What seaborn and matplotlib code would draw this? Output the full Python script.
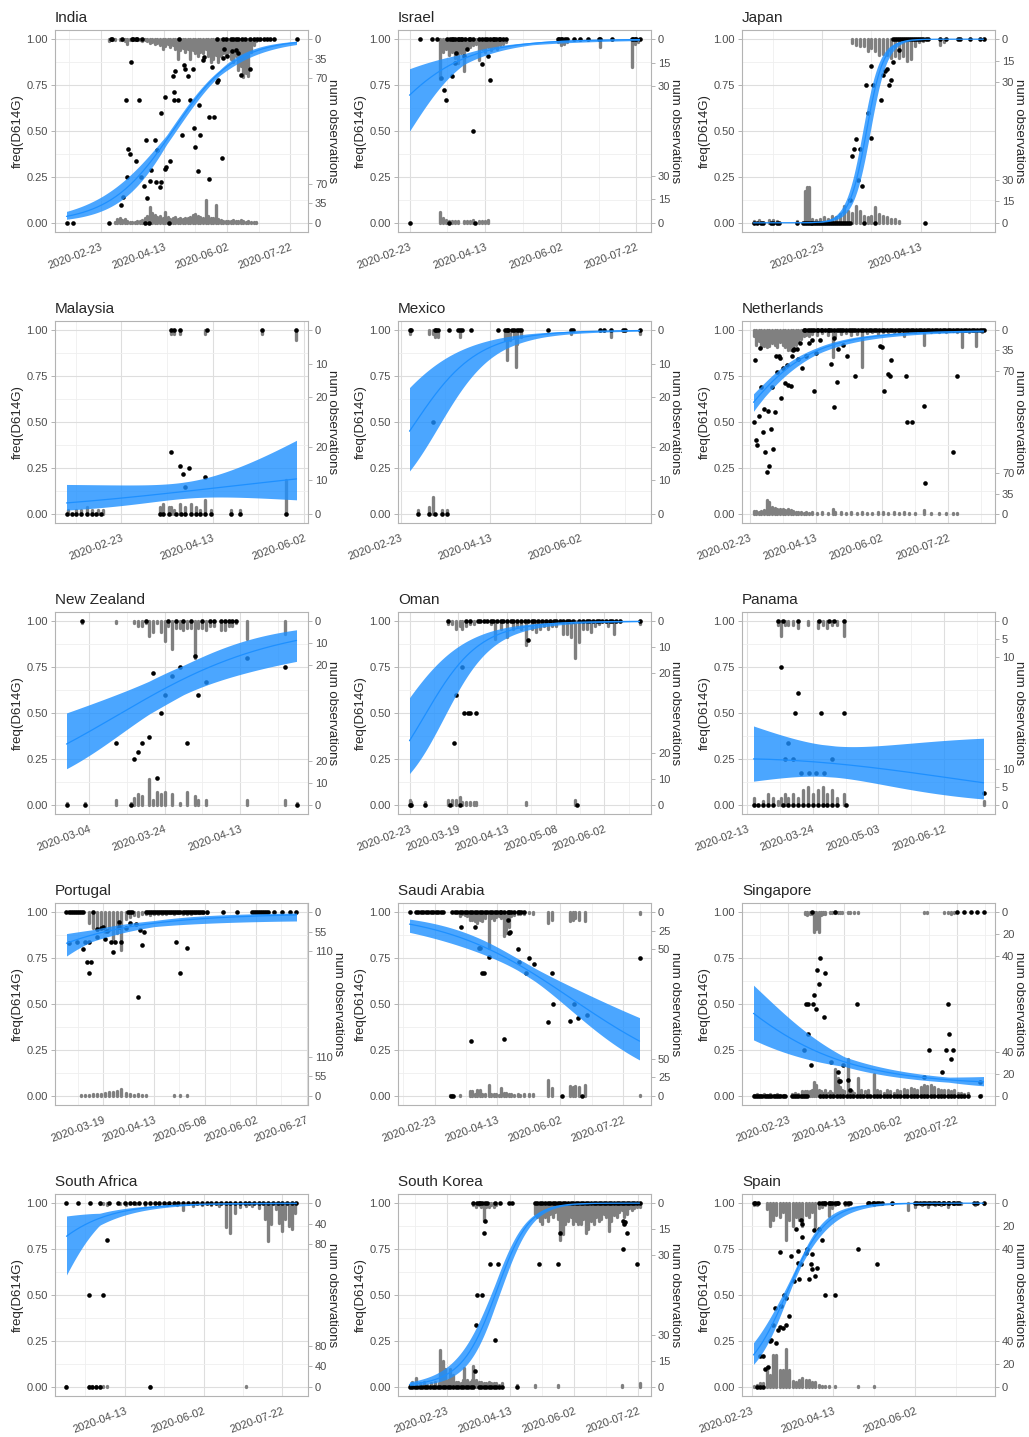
import numpy as np
import pandas as pd
import matplotlib
matplotlib.use("Agg")
import matplotlib.pyplot as plt
import seaborn as sns

# days are counted from 2020-01-01
countries = ["India", "Israel", "Japan", "Malaysia", "Mexico", "Netherlands",
             "New Zealand", "Oman", "Panama", "Portugal", "Saudi Arabia", "Singapore",
             "South Africa", "South Korea", "Spain"]

tick_dates = {
    "India": ["2020-02-23", "2020-04-13", "2020-06-02", "2020-07-22"],
    "Israel": ["2020-02-23", "2020-04-13", "2020-06-02", "2020-07-22"],
    "Japan": ["2020-02-23", "2020-04-13"],
    "Malaysia": ["2020-02-23", "2020-04-13", "2020-06-02"],
    "Mexico": ["2020-02-23", "2020-04-13", "2020-06-02"],
    "Netherlands": ["2020-02-23", "2020-04-13", "2020-06-02", "2020-07-22"],
    "New Zealand": ["2020-03-04", "2020-03-24", "2020-04-13"],
    "Oman": ["2020-02-23", "2020-03-19", "2020-04-13", "2020-05-08", "2020-06-02"],
    "Panama": ["2020-02-13", "2020-03-24", "2020-05-03", "2020-06-12"],
    "Portugal": ["2020-03-19", "2020-04-13", "2020-05-08", "2020-06-02", "2020-06-27"],
    "Saudi Arabia": ["2020-02-23", "2020-04-13", "2020-06-02", "2020-07-22"],
    "Singapore": ["2020-02-23", "2020-04-13", "2020-06-02", "2020-07-22"],
    "South Africa": ["2020-04-13", "2020-06-02", "2020-07-22"],
    "South Korea": ["2020-02-23", "2020-04-13", "2020-06-02", "2020-07-22"],
    "Spain": ["2020-02-23", "2020-04-13", "2020-06-02"],
}

# secondary axis: tick values and how much of the freq axis the largest tick spans
sec_ticks = {
    "India": [0, 35, 70], "Israel": [0, 15, 30], "Japan": [0, 15, 30],
    "Malaysia": [0, 10, 20], "Mexico": [0, 10, 20], "Netherlands": [0, 35, 70],
    "New Zealand": [0, 10, 20], "Oman": [0, 10, 20], "Panama": [0, 5, 10],
    "Portugal": [0, 55, 110], "Saudi Arabia": [0, 25, 50], "Singapore": [0, 20, 40],
    "South Africa": [0, 40, 80], "South Korea": [0, 15, 30], "Spain": [0, 20, 40],
}
sec_span = {
    "India": 0.214, "Israel": 0.257, "Japan": 0.235, "Malaysia": 0.366, "Mexico": 0.364,
    "Netherlands": 0.22, "New Zealand": 0.236, "Oman": 0.284, "Panama": 0.197,
    "Portugal": 0.212, "Saudi Arabia": 0.2, "Singapore": 0.237, "South Africa": 0.224,
    "South Korea": 0.284, "Spain": 0.25,
}

# fitted curve read at three dates: centre, lower and upper edge of the band
fit_days = {
    "India": [26, 105, 208], "Israel": [53, 89, 205], "Japan": [66, 75.5, 85],
    "Malaysia": [24, 86, 149], "Mexico": [58, 112, 186], "Netherlands": [56, 103, 230],
    "New Zealand": [57, 88, 118], "Oman": [53, 103, 171], "Panama": [47, 97, 187],
    "Portugal": [60, 103, 173], "Saudi Arabia": [33, 119, 216], "Singapore": [22, 103, 227],
    "South Africa": [66, 87, 212], "South Korea": [24, 91, 127], "Spain": [55, 78, 103],
}
fit_p = {
    "India": [0.035, 0.45, 0.982], "Israel": [0.695, 0.895, 0.998], "Japan": [0.10, 0.5, 0.90],
    "Malaysia": [0.06, 0.12, 0.19], "Mexico": [0.45, 0.94, 0.998], "Netherlands": [0.607, 0.885, 0.995],
    "New Zealand": [0.331, 0.685, 0.895], "Oman": [0.349, 0.945, 0.999], "Panama": [0.25, 0.224, 0.12],
    "Portugal": [0.831, 0.94, 0.985], "Saudi Arabia": [0.935, 0.717, 0.298], "Singapore": [0.449, 0.185, 0.076],
    "South Africa": [0.82, 0.918, 0.9995], "South Korea": [0.013, 0.5, 0.949], "Spain": [0.185, 0.585, 0.922],
}
fit_lo = {
    "India": [0.018, 0.425, 0.971], "Israel": [0.52, 0.862, 0.993], "Japan": [0.066, 0.39, 0.852],
    "Malaysia": [0.021, 0.076, 0.076], "Mexico": [0.244, 0.909, 0.995], "Netherlands": [0.56, 0.866, 0.99],
    "New Zealand": [0.195, 0.60, 0.80], "Oman": [0.158, 0.913, 0.997], "Panama": [0.12, 0.142, 0.03],
    "Portugal": [0.764, 0.922, 0.958], "Saudi Arabia": [0.895, 0.685, 0.195], "Singapore": [0.298, 0.158, 0.049],
    "South Africa": [0.623, 0.88, 0.997], "South Korea": [0.006, 0.44, 0.935], "Spain": [0.131, 0.558, 0.895],
}
fit_hi = {
    "India": [0.058, 0.475, 0.989], "Israel": [0.85, 0.92, 0.9995], "Japan": [0.148, 0.61, 0.934],
    "Malaysia": [0.16, 0.158, 0.40], "Mexico": [0.70, 0.967, 0.9993], "Netherlands": [0.655, 0.902, 0.9975],
    "New Zealand": [0.498, 0.76, 0.958], "Oman": [0.562, 0.968, 0.9997], "Panama": [0.41, 0.306, 0.35],
    "Portugal": [0.885, 0.955, 0.996], "Saudi Arabia": [0.964, 0.749, 0.425], "Singapore": [0.595, 0.21, 0.095],
    "South Africa": [0.934, 0.945, 0.9999], "South Korea": [0.026, 0.56, 0.96], "Spain": [0.249, 0.613, 0.945],
}

# daily frequency points: days at 1, days at 0, and (day, freq) in between
ones_days = {
    "India": [61, 62, 70, 78, 79, 81, 82, 86, 115, 145, 150, 152, 156, 158, 160, 162, 165, 167,
              171, 174, 177, 179, 182, 185, 187, 190, 208],
    "Israel": [60, 68, 71, 78, 80, 81, 82, 83, 85, 86, 87, 88, 90, 92, 93, 95, 99, 101, 103, 104,
               106, 108, 109, 110, 112, 113, 115, 117, 151, 152, 153, 154, 156, 157, 162, 166, 171,
               178, 179, 187, 200, 201, 202, 203, 205],
    "Japan": [89, 90, 91, 92, 93, 94, 95, 96, 97, 98, 99, 100, 101, 102, 103, 104, 106, 107, 113,
              116, 122, 123, 128, 133, 135],
    "Malaysia": [80, 82, 85, 100, 130, 149],
    "Mexico": [58, 59, 72, 73, 74, 80, 85, 86, 87, 92, 107, 111, 112, 113, 115, 116, 118, 119, 120,
               135, 148, 149, 164, 166, 170, 177, 178, 186],
    "Netherlands": [94, 95, 97, 99, 100, 102, 104, 105, 107, 108, 110, 112, 113, 115, 117, 119, 121,
                    122, 124, 126, 128, 130, 131, 133, 135, 137, 139, 141, 143, 145, 147, 149, 151,
                    153, 155, 157, 159, 161, 163, 165, 167, 169, 171, 173, 175, 177, 179, 181, 183,
                    185, 187, 189, 191, 193, 195, 197, 199, 201, 203, 205, 207, 209, 211, 213, 215,
                    217, 219, 221, 223, 225, 227, 229, 230],
    "New Zealand": [61, 78, 84, 86, 88, 90, 93, 95, 96, 98, 99, 100, 101, 102],
    "Oman": [73, 82, 84, 88, 89, 91, 93, 95, 96, 98, 100, 101, 103, 105, 106, 108, 110, 112, 114,
             116, 117, 119, 121, 123, 125, 127, 128, 130, 132, 134, 135, 137, 140, 142, 144, 145,
             147, 149, 150, 152, 154, 156, 157, 159, 161, 171],
    "Panama": [62, 65, 74, 87, 93, 96, 102],
    "Portugal": [60, 61, 62, 63, 64, 65, 66, 67, 68, 73, 90, 91, 92, 99, 100, 101, 102, 103, 104, 105,
                 106, 107, 108, 109, 110, 111, 112, 113, 114, 115, 116, 117, 118, 119, 120, 121, 122,
                 123, 124, 125, 126, 127, 129, 137, 144, 151, 152, 153, 154, 155, 156, 157, 158, 159,
                 162, 166, 170, 173],
    "Saudi Arabia": [33, 38, 40, 42, 44, 46, 48, 50, 52, 54, 56, 58, 60, 67, 69, 71, 73, 75, 77, 79,
                     81, 83, 85, 87, 89, 91, 93, 95, 97, 99, 101, 103, 105, 106, 108, 111, 112, 114,
                     116, 119, 120, 122, 124],
    "Singapore": [74, 95, 203, 210, 216, 221, 227],
    "South Africa": [66, 73, 81, 87, 93, 99, 103, 106, 109, 112, 116, 119, 122, 125, 128, 131, 134,
                     137, 140, 143, 146, 149, 152, 155, 158, 161, 164, 167, 170, 173, 176, 179, 182,
                     185, 188, 191, 194, 197, 200, 203, 206, 209, 212],
    "South Korea": [74, 77, 78, 79, 81, 83, 85, 91, 95, 102, 104, 122, 124, 126, 128, 130, 132, 134,
                    136, 138, 140, 142, 144, 146, 148, 150, 152, 154, 156, 158, 160, 162, 164, 166,
                    168, 170, 172, 174, 176, 178, 180, 182, 184, 186, 188, 190, 192, 194, 196, 198,
                    200, 202, 204],
    "Spain": [54, 55, 57, 94, 96, 97, 98, 100, 101, 102, 104, 105, 106, 110, 112, 113, 124, 125, 127,
              128, 130, 131, 133, 139, 153, 154, 156, 158, 159, 161, 162, 164, 165, 167, 168, 170,
              171, 173, 174, 176, 177, 179, 180, 189, 191, 195],
}
zero_days = {
    "India": [26, 31, 60, 88, 91, 107],
    "Israel": [53, 79, 96],
    "Japan": [18, 20, 22, 23, 27, 28, 30, 31, 40, 43, 44, 45, 46, 47, 48, 49, 50, 51, 52, 53, 54,
              55, 56, 57, 58, 59, 60, 61, 62, 63, 64, 65, 66, 67, 74, 80, 105],
    "Malaysia": [23, 26, 28, 31, 34, 37, 39, 42, 74, 76, 79, 83, 86, 88, 91, 94, 96, 99, 102, 113,
                 118, 143],
    "Mexico": [63, 69, 72, 76, 79],
    "Netherlands": [],
    "New Zealand": [57, 62, 74, 118],
    "Oman": [53, 54, 61, 74, 79, 139],
    "Panama": [47, 50, 53, 56, 59, 65, 68, 71, 74, 77, 80, 83, 86, 89, 92, 95, 98, 103],
    "Portugal": [],
    "Saudi Arabia": [66, 68, 154, 170],
    "Singapore": [22, 24, 26, 28, 30, 32, 34, 36, 38, 40, 42, 44, 46, 48, 50, 56, 58, 60, 62, 64, 66,
                  68, 70, 81, 84, 87, 90, 93, 96, 99, 102, 105, 108, 111, 114, 117, 120, 123, 126,
                  129, 132, 135, 138, 141, 144, 147, 150, 153, 156, 159, 162, 165, 168, 171, 174,
                  177, 180, 183, 186, 189, 192, 195, 198, 201, 204, 207, 210, 213, 224],
    "South Africa": [66, 80, 82, 85, 87, 119],
    "South Korea": [24, 26, 28, 30, 32, 34, 36, 38, 40, 42, 44, 46, 48, 50, 52, 54, 56, 58, 60, 62,
                    64, 66, 68, 70, 72, 74, 78, 80, 82, 84, 86, 88, 90, 92, 94, 96, 108],
    "Spain": [56, 58, 60],
}
mid_points = {
    "India": [(77, .876), (73, .667), (83, .667), (75, .404), (76, .376), (74, .249), (71, .14),
              (69, .098), (81, .335), (85, .249), (87, .198), (90, .135), (89, .453), (92, .225),
              (93, .285), (96, .453), (97, .222), (100, .195), (101, .222), (98, .398), (104, .685),
              (104, .295), (105, .304), (108, .335), (101, .6), (110, .80), (111, .713), (112, .829),
              (111, .667), (114, .667), (117, .476), (119, .862), (120, .84), (122, .80), (124, .667),
              (126, .835), (127, .516), (128, .413), (130, .28), (131, .64), (132, .48), (134, .889),
              (135, .904), (139, .24), (139, .576), (141, .849), (143, .576), (145, .767), (146, .776),
              (149, .355), (150, .895), (151, .945), (153, .909), (157, .935), (160, .94), (162, .927),
              (164, .807), (171, .835)],
    "Israel": [(74, .79), (76, .725), (77, .667), (81, .80), (83, .87), (84, .925), (89, .907),
               (91, .949), (95, .498), (101, .867), (105, .907), (106, .776)],
    "Japan": [(67, .125), (71, .235), (73, .198), (68, .364), (69, .4), (70, .455), (72, .4),
              (78, .462), (76, .598), (75, .749), (79, .749), (78, .855), (83, .667), (84, .804),
              (85, .825), (86, .84), (87, .749), (88, .776), (89, .876), (92, .94)],
    "Malaysia": [(80, .337), (85, .26), (90, .25), (87, .217), (88, .147), (99, .2)],
    "Mexico": [(71, .498)],
    "Netherlands": [(56, .498), (57, .835), (58, .4), (59, .376), (60, .531), (61, .904), (62, .691),
                    (63, .444), (64, .571), (65, .335), (66, .227), (67, .558), (68, .258), (69, .464),
                    (70, .691), (71, .353), (72, .555), (73, .858), (74, .771), (75, .858), (76, .849),
                    (77, .631), (78, .795), (80, .713), (81, .813), (82, .704), (84, .698), (85, .862),
                    (86, .891), (87, .895), (89, .895), (90, .845), (91, .931), (93, .795), (96, .858),
                    (98, .931), (100, .949), (102, .667), (103, .876), (106, .945), (115, .818),
                    (117, .58), (117, .958), (119, .716), (120, .898), (124, .922), (127, .858),
                    (133, .749), (152, .913), (153, .907), (155, .667), (158, .762), (159, .749),
                    (160, .835), (171, .749), (172, .498), (176, .498), (185, .585), (186, .167),
                    (207, .335), (210, .749)],
    "New Zealand": [(70, .335), (75, .249), (76, .285), (77, .335), (79, .367), (80, .716), (81, .145),
                    (82, .498), (83, .6), (85, .70), (87, .749), (89, .335), (91, .809), (92, .6),
                    (94, .667), (105, .8), (115, .749)],
    "Oman": [(76, .335), (77, .6), (80, .749), (81, .498), (83, .498), (84, .498), (87, .498), (114, .9)],
    "Panama": [(64, .749), (74, .607), (72, .5), (88, .5), (102, .5), (68, .339), (66, .25), (71, .25),
               (76, .175), (81, .175), (85, .175), (90, .175), (95, .25), (187, .065)],
    "Portugal": [(61, .831), (65, .84), (68, .80), (69, .84), (70, .731), (71, .667), (71, .836),
                 (72, .731), (75, .909), (75, .867), (77, .913), (78, .922), (79, .855), (80, .895),
                 (82, .84), (83, .785), (84, .84), (86, .949), (86, .922), (87, .84), (89, .916),
                 (91, .94), (94, .936), (95, .536), (96, .904), (97, .822), (98, .891), (114, .836),
                 (116, .667), (119, .804)],
    "Saudi Arabia": [(74, .918), (85, .918), (82, .30), (88, .804), (89, .807), (91, .667), (92, .667),
                     (96, .758), (111, .956), (112, .885), (113, .894), (108, .309), (119, .80),
                     (120, .731), (128, .749), (126, .667), (132, .716), (143, .40), (146, .667),
                     (147, .498), (161, .409), (164, .498), (167, .422), (174, .44), (216, .749)],
    "Singapore": [(81, .753), (79, .685), (86, .667), (80, .607), (76, .549), (69, .498), (71, .498),
                  (75, .498), (78, .473), (85, .431), (71, .335), (114, .498), (73, .167), (67, .249),
                  (91, .182), (97, .131), (98, .082), (99, .08), (106, .085), (108, .031), (102, .167),
                  (178, .249), (174, .10), (190, .127), (195, .498), (196, .335), (194, .249),
                  (200, .249), (198, .2), (224, .076)],
    "South Africa": [(80, .5), (89, .5), (92, .8)],
    "South Korea": [(83, .902), (82, .835), (87, .667), (93, .667), (77, .498), (81, .498), (76, .335),
                    (91, .255), (75, .085), (142, .835), (125, .667), (140, .667), (191, .753),
                    (192, .885), (193, .895), (194, .835), (191, .902), (202, .667)],
    "Spain": [(58, .167), (60, .167), (61, .095), (63, .107), (64, .249), (65, .255), (66, .335),
              (67, .431), (68, .24), (69, .309), (70, .327), (72, .322), (74, .335), (76, .385),
              (70, .735), (71, .44), (73, .498), (74, .485), (77, .713), (79, .576), (80, .858),
              (81, .673), (81, .74), (82, .585), (83, .667), (83, .907), (84, .885), (84, .816),
              (86, .727), (87, .749), (88, .589), (89, .667), (90, .64), (90, .725), (91, .854),
              (92, .604), (93, .649), (94, .862), (96, .80), (98, .498), (104, .498), (118, .749),
              (130, .667)],
}

# gray counts: (day, D614G count hanging from 1, other count rising from 0)
bar_counts = {
    "India": [(60, 3, 0), (62, 2, 0), (64, 1, 1), (66, 0, 6), (68, 1, 8), (70, 2, 5), (72, 3, 6),
              (74, 8, 3), (76, 2, 2), (78, 1, 1), (80, 2, 2), (82, 1, 3), (84, 2, 4), (86, 3, 5),
              (88, 2, 8), (90, 4, 12), (92, 6, 28), (94, 5, 18), (96, 8, 14), (98, 6, 10),
              (100, 10, 12), (102, 17, 9), (104, 12, 19), (106, 8, 10), (108, 14, 7), (110, 10, 8),
              (112, 17, 10), (114, 35, 6), (116, 20, 8), (118, 15, 7), (120, 22, 8), (122, 18, 9),
              (124, 35, 10), (126, 20, 14), (128, 25, 16), (130, 30, 12), (132, 22, 11), (134, 25, 8),
              (136, 18, 40), (138, 30, 12), (140, 40, 9), (142, 35, 8), (144, 28, 31), (146, 40, 7),
              (148, 30, 5), (150, 25, 4), (152, 30, 3), (154, 22, 4), (156, 35, 3), (158, 40, 5),
              (160, 30, 4), (162, 55, 3), (164, 48, 5), (166, 67, 4), (168, 60, 2), (170, 65, 3),
              (172, 22, 2), (174, 10, 1), (176, 3, 1), (178, 1, 0)],
    "Israel": [(73, 25, 7), (75, 8, 3), (77, 6, 2), (79, 10, 1), (81, 8, 1), (83, 12, 1), (85, 15, 1),
               (87, 9, 0), (89, 20, 1), (91, 6, 1), (93, 5, 1), (95, 4, 2), (97, 3, 0), (99, 13, 1),
               (101, 6, 1), (103, 8, 1), (105, 5, 2), (107, 7, 0), (109, 5, 0), (111, 6, 0),
               (113, 4, 0), (115, 3, 0), (117, 2, 0), (151, 2, 0), (153, 4, 0), (155, 3, 0),
               (157, 2, 0), (179, 5, 0), (200, 18, 0), (202, 3, 0), (204, 2, 0)],
    "Japan": [(18, 0, 1), (21, 0, 2), (26, 0, 2), (28, 0, 2), (30, 0, 1), (40, 0, 1), (44, 0, 22),
              (45, 0, 25), (46, 0, 25), (48, 0, 3), (50, 0, 2), (52, 0, 3), (54, 0, 4), (56, 0, 3),
              (58, 0, 5), (60, 0, 4), (62, 0, 6), (64, 0, 12), (66, 0, 8), (68, 3, 7), (70, 4, 12),
              (72, 5, 8), (74, 5, 5), (76, 8, 4), (78, 6, 5), (80, 8, 11), (82, 11, 6), (84, 10, 5),
              (86, 11, 4), (88, 13, 3), (90, 12, 3), (92, 13, 1), (94, 12, 0), (96, 15, 0),
              (98, 14, 0), (100, 5, 0), (102, 2, 0), (104, 1, 0), (113, 4, 0), (115, 2, 0)],
    "Malaysia": [(24, 0, 1), (28, 0, 1), (31, 0, 1), (34, 0, 2), (37, 0, 1), (40, 0, 1), (43, 0, 1),
                 (74, 0, 2), (76, 0, 3), (79, 0, 2), (80, 1, 2), (82, 1, 1), (85, 1, 3), (88, 0, 2),
                 (91, 0, 3), (94, 0, 2), (96, 0, 1), (99, 1, 4), (102, 0, 1), (113, 0, 1), (118, 0, 1),
                 (130, 1, 0), (143, 0, 10), (149, 3, 0)],
    "Mexico": [(58, 1, 0), (63, 0, 1), (69, 1, 2), (71, 1, 5), (72, 2, 0), (74, 2, 0), (76, 0, 1),
               (79, 0, 1), (86, 2, 0), (111, 3, 0), (112, 9, 0), (114, 3, 0), (116, 2, 0), (117, 11, 0),
               (118, 4, 0), (120, 2, 0), (148, 1, 0), (170, 2, 0), (186, 1, 0)],
    "Netherlands": [(56, 10, 5), (58, 25, 5), (60, 18, 4), (62, 30, 5), (64, 28, 6), (66, 30, 24),
                    (68, 27, 20), (70, 22, 12), (72, 25, 10), (74, 30, 8), (76, 20, 8), (78, 25, 8),
                    (80, 30, 7), (82, 35, 8), (84, 35, 6), (86, 30, 5), (88, 25, 4), (90, 20, 4),
                    (92, 15, 3), (94, 10, 2), (96, 8, 3), (98, 10, 2), (100, 6, 3), (104, 8, 2),
                    (108, 5, 3), (112, 8, 2), (116, 47, 8), (118, 10, 4), (122, 6, 3), (126, 5, 2),
                    (130, 8, 3), (134, 6, 2), (138, 64, 3), (142, 5, 2), (146, 4, 2), (150, 6, 3),
                    (154, 3, 4), (158, 4, 2), (162, 3, 3), (166, 4, 2), (170, 10, 3), (174, 4, 2),
                    (178, 3, 1), (185, 25, 6), (190, 4, 1), (196, 3, 1), (202, 4, 2), (207, 2, 2),
                    (210, 3, 2), (214, 30, 0), (219, 4, 0), (224, 27, 0), (229, 3, 0)],
    "New Zealand": [(57, 0, 1), (61, 1, 0), (62, 0, 1), (70, 1, 2), (74, 0, 1), (75, 1, 3), (76, 2, 5),
                    (77, 2, 4), (78, 1, 0), (79, 7, 12), (80, 5, 2), (81, 1, 6), (82, 5, 5), (83, 9, 6),
                    (84, 2, 0), (85, 13, 5), (86, 3, 0), (87, 3, 1), (88, 4, 0), (89, 3, 6), (90, 3, 0),
                    (91, 17, 4), (92, 3, 2), (93, 3, 0), (94, 4, 2), (95, 2, 0), (96, 2, 0), (98, 4, 0),
                    (99, 4, 0), (100, 2, 0), (101, 2, 0), (102, 1, 0), (105, 8, 2), (115, 6, 2),
                    (118, 0, 1)],
    "Oman": [(53, 0, 2), (54, 0, 1), (61, 0, 1), (73, 1, 2), (75, 1, 2), (77, 3, 2), (79, 2, 3),
             (80, 3, 1), (82, 2, 1), (84, 1, 1), (86, 1, 1), (87, 0, 1), (95, 1, 0), (97, 7, 0),
             (100, 3, 0), (103, 6, 0), (106, 3, 0), (108, 2, 0), (110, 3, 0), (113, 9, 1), (116, 3, 0),
             (118, 4, 0), (120, 3, 0), (122, 2, 0), (124, 3, 0), (126, 2, 0), (128, 2, 0), (132, 5, 0),
             (134, 5, 0), (136, 6, 0), (138, 14, 2), (140, 8, 0), (142, 3, 0), (144, 3, 0),
             (146, 4, 0), (148, 2, 0), (150, 1, 0), (155, 2, 0), (158, 5, 0), (171, 1, 0)],
    "Panama": [(47, 0, 2), (53, 0, 1), (56, 0, 3), (59, 0, 2), (62, 1, 1), (64, 4, 2), (66, 1, 3),
               (68, 1, 2), (71, 1, 3), (74, 2, 2), (77, 0, 4), (80, 1, 5), (83, 0, 3), (86, 2, 4),
               (89, 1, 5), (92, 2, 3), (95, 1, 4), (98, 1, 2), (102, 4, 3), (187, 0, 1)],
    "Portugal": [(67, 0, 2), (69, 0, 3), (71, 30, 3), (73, 45, 4), (75, 50, 6), (77, 40, 5),
                 (79, 55, 8), (81, 50, 10), (83, 79, 12), (85, 60, 15), (87, 107, 19), (89, 20, 8),
                 (91, 15, 5), (93, 8, 3), (95, 10, 6), (97, 6, 3), (99, 5, 2), (101, 8, 0), (103, 5, 0),
                 (105, 6, 0), (107, 4, 0), (109, 5, 0), (111, 3, 0), (113, 4, 1), (115, 3, 0),
                 (116, 0, 1), (117, 5, 0), (119, 6, 1), (121, 4, 0), (123, 3, 0), (125, 2, 0),
                 (127, 3, 0), (129, 2, 0)],
    "Saudi Arabia": [(65, 0, 1), (67, 0, 1), (73, 5, 1), (75, 3, 0), (77, 4, 0), (79, 5, 0), (81, 10, 7),
                     (83, 10, 6), (85, 12, 2), (87, 15, 8), (89, 10, 8), (91, 12, 3), (93, 8, 2),
                     (96, 49, 15), (98, 8, 2), (100, 10, 3), (102, 6, 2), (104, 5, 1), (106, 8, 10),
                     (108, 32, 4), (110, 28, 4), (112, 20, 3), (114, 5, 2), (116, 4, 1), (119, 3, 3),
                     (121, 2, 1), (124, 3, 2), (128, 1, 3), (131, 3, 3), (143, 15, 22), (146, 10, 10),
                     (161, 12, 13), (163, 10, 12), (165, 8, 13), (168, 10, 12), (173, 12, 15),
                     (216, 3, 1)],
    "Singapore": [(22, 0, 1), (25, 0, 2), (28, 0, 1), (31, 0, 2), (34, 0, 1), (37, 0, 2), (40, 0, 1),
                  (43, 0, 2), (46, 0, 1), (49, 0, 1), (56, 0, 2), (59, 0, 3), (62, 0, 2), (65, 0, 4),
                  (68, 2, 4), (70, 3, 4), (72, 2, 4), (74, 2, 5), (76, 18, 13), (78, 15, 10),
                  (80, 18, 5), (82, 3, 4), (84, 2, 3), (86, 2, 5), (88, 0, 3), (90, 1, 4), (92, 1, 3),
                  (95, 1, 25), (97, 1, 16), (99, 1, 8), (101, 1, 5), (103, 0, 4), (106, 1, 34),
                  (108, 1, 5), (110, 0, 4), (112, 1, 3), (115, 1, 16), (118, 0, 5), (121, 0, 4),
                  (124, 0, 5), (129, 0, 20), (132, 0, 5), (135, 0, 4), (138, 0, 3), (141, 0, 5),
                  (144, 0, 4), (147, 0, 3), (150, 0, 5), (153, 0, 4), (156, 0, 6), (159, 0, 5),
                  (162, 0, 7), (165, 0, 6), (168, 0, 5), (171, 0, 8), (174, 1, 10), (177, 1, 9),
                  (180, 0, 10), (183, 0, 8), (186, 0, 6), (189, 0, 5), (192, 1, 5), (195, 1, 5),
                  (198, 2, 4), (201, 1, 5), (204, 0, 3), (207, 0, 3), (210, 0, 2), (213, 0, 3),
                  (225, 0, 1)],
    "South Africa": [(66, 0, 1), (80, 0, 1), (82, 0, 1), (85, 0, 1), (87, 1, 1), (89, 1, 1), (92, 4, 1),
                     (100, 2, 0), (104, 3, 0), (110, 2, 0), (116, 3, 0), (119, 0, 1), (125, 2, 0),
                     (130, 3, 0), (136, 4, 0), (140, 14, 0), (146, 5, 0), (152, 4, 0), (158, 3, 0),
                     (163, 6, 0), (167, 46, 0), (170, 58, 0), (173, 20, 0), (176, 8, 0), (180, 5, 1),
                     (184, 6, 0), (188, 10, 0), (192, 30, 0), (194, 74, 0), (196, 40, 0), (199, 12, 0),
                     (201, 38, 0), (203, 54, 0), (205, 30, 0), (207, 44, 0), (209, 50, 0), (211, 20, 0)],
    "South Korea": [(24, 0, 1), (26, 0, 3), (29, 0, 5), (32, 0, 2), (35, 0, 3), (38, 0, 1), (41, 0, 2),
                    (44, 0, 3), (47, 0, 2), (48, 0, 21), (50, 0, 15), (52, 0, 10), (54, 0, 4),
                    (56, 0, 10), (58, 0, 7), (60, 0, 3), (62, 0, 3), (64, 0, 2), (66, 0, 4), (67, 0, 11),
                    (69, 0, 4), (71, 0, 3), (73, 0, 4), (74, 1, 12), (76, 2, 4), (78, 1, 3), (80, 2, 3),
                    (82, 10, 2), (84, 2, 2), (86, 2, 3), (88, 1, 2), (90, 2, 2), (92, 1, 2), (94, 0, 1),
                    (96, 0, 2), (108, 0, 1), (122, 6, 1), (124, 8, 0), (126, 10, 0), (128, 12, 0),
                    (130, 8, 0), (132, 10, 0), (134, 6, 0), (136, 8, 0), (138, 5, 0), (140, 9, 1),
                    (142, 21, 0), (144, 18, 0), (146, 12, 0), (148, 10, 0), (150, 8, 0), (152, 12, 0),
                    (154, 10, 0), (156, 12, 0), (158, 12, 0), (160, 9, 0), (162, 17, 0), (164, 15, 0),
                    (166, 10, 0), (168, 12, 0), (170, 8, 0), (172, 10, 0), (174, 9, 0), (176, 6, 0),
                    (178, 8, 0), (180, 16, 0), (182, 10, 0), (184, 7, 0), (186, 8, 0), (188, 5, 0),
                    (190, 4, 1), (192, 8, 0), (194, 6, 0), (196, 3, 0), (198, 4, 0), (200, 3, 0),
                    (202, 2, 0), (204, 2, 2)],
    "Spain": [(54, 2, 1), (56, 2, 2), (58, 0, 3), (60, 0, 3), (62, 5, 17), (64, 20, 10), (66, 15, 28),
              (68, 10, 28), (70, 12, 15), (72, 8, 15), (74, 32, 33), (76, 15, 15), (78, 20, 5),
              (80, 12, 4), (82, 15, 6), (84, 20, 8), (86, 10, 6), (88, 12, 6), (90, 8, 4), (92, 21, 4),
              (94, 4, 2), (96, 3, 1), (98, 2, 1), (100, 11, 1), (102, 4, 0), (104, 2, 1), (110, 2, 0),
              (112, 2, 0), (118, 0, 1), (124, 1, 0), (128, 2, 1), (132, 1, 0), (139, 1, 0), (149, 6, 0),
              (153, 3, 0), (157, 2, 0), (161, 3, 0), (165, 2, 0), (169, 2, 0), (173, 3, 0), (177, 1, 0),
              (181, 1, 0), (190, 2, 0), (195, 1, 0)],
}

day0 = pd.Timestamp("2020-01-01")


def logit(p):
    p = np.asarray(p, dtype=float)
    return np.log(p / (1 - p))


def expit(x):
    return 1 / (1 + np.exp(-x))


sns.set_theme(style="white")
plt.rcParams["font.family"] = ["Liberation Sans", "DejaVu Sans"]

W, H = 1029, 1437
col_left = [55, 398, 742]
row_top = [30, 321, 612, 903, 1194]
pw, ph = 253, 202
grid_major = "#DEDEDE"
grid_minor = "#EFEFEF"
frame = "#B3B3B3"
bar_col = "#808080"
blue = "#1E90FF"

fig = plt.figure(figsize=(W / 100, H / 100), dpi=100)

for i, c in enumerate(countries):
    r, k = divmod(i, 3)
    ax = fig.add_axes([col_left[k] / W, 1 - (row_top[r] + ph) / H, pw / W, ph / H])

    bars = np.array(bar_counts[c], dtype=float)
    mids = np.array(mid_points[c], dtype=float)
    dots = pd.DataFrame({
        "day": list(ones_days[c]) + list(zero_days[c]) + list(mids[:, 0]),
        "freq": [1.0] * len(ones_days[c]) + [0.0] * len(zero_days[c]) + list(mids[:, 1]),
    })
    all_days = np.concatenate([dots["day"].values, bars[:, 0]])
    d_lo, d_hi = all_days.min(), all_days.max()
    pad = 0.05 * (d_hi - d_lo)
    ax.set_xlim(d_lo - pad, d_hi + pad)
    ax.set_ylim(-0.05, 1.05)

    # date ticks plus half-way minor lines
    majors = np.array([(pd.Timestamp(s) - day0).days for s in tick_dates[c]], dtype=float)
    step = majors[1] - majors[0]
    minors = np.concatenate([majors - step / 2, [majors[-1] + step / 2]])
    minors = minors[(minors > d_lo - pad) & (minors < d_hi + pad)]
    ax.set_xticks(majors)
    ax.set_xticklabels(tick_dates[c], rotation=20, ha="right", rotation_mode="anchor")
    ax.set_xticks(minors, minor=True)
    ax.set_yticks([0, 0.25, 0.5, 0.75, 1.0])
    ax.set_yticklabels(["0.00", "0.25", "0.50", "0.75", "1.00"])
    ax.set_yticks([0.125, 0.375, 0.625, 0.875], minor=True)
    ax.grid(which="major", color=grid_major, lw=0.8)
    ax.grid(which="minor", color=grid_minor, lw=0.6)
    ax.set_axisbelow(True)
    ax.tick_params(which="major", length=3, width=0.7, color=frame, labelsize=8,
                   labelcolor="#4D4D4D", pad=2)
    ax.tick_params(axis="x", which="major", pad=4)
    ax.tick_params(which="minor", length=0)
    for sp in ax.spines.values():
        sp.set_color(frame)
        sp.set_linewidth(0.8)

    # gray count bars: D614G from the top, others from the bottom
    scale = sec_span[c] / sec_ticks[c][-1]
    g = bars[:, 1] > 0
    o = bars[:, 2] > 0
    ax.vlines(bars[g, 0], 1 - bars[g, 1] * scale, 1, colors=bar_col, lw=2.4,
              capstyle="round", zorder=2)
    ax.vlines(bars[o, 0], 0, bars[o, 2] * scale, colors=bar_col, lw=2.4,
              capstyle="round", zorder=2)

    sns.scatterplot(data=dots, x="day", y="freq", color="black", s=11, linewidth=0,
                    ax=ax, zorder=3, legend=False)

    # fitted curve with its band, built on the logit scale
    t = np.array(fit_days[c], dtype=float)
    eta_coef = np.polyfit(t, logit(fit_p[c]), 2)
    half = (logit(fit_hi[c]) - logit(fit_lo[c])) / 2
    w2_coef = np.polyfit(t, half ** 2, 2)
    xs = np.linspace(dots["day"].min(), dots["day"].max(), 150)
    eta = np.polyval(eta_coef, xs)
    w = np.sqrt(np.clip(np.polyval(w2_coef, xs), half.min() ** 2, None))
    ax.fill_between(xs, expit(eta - w), expit(eta + w), color=blue, alpha=0.8, lw=0, zorder=4)
    sns.lineplot(x=xs, y=expit(eta), color=blue, lw=0.9, ax=ax, zorder=5)

    ax.set_xlabel("")
    ax.set_ylabel("freq(D614G)", fontsize=9.5, labelpad=2)
    ax.set_title(c, loc="left", fontsize=11, pad=6)

    # secondary axis with counts
    ax2 = ax.twinx()
    ax2.set_ylim(ax.get_ylim())
    st = sec_ticks[c]
    ax2.set_yticks([1 - v * scale for v in st] + [v * scale for v in st])
    ax2.set_yticklabels([str(v) for v in st] * 2)
    ax2.tick_params(length=3, width=0.7, color=frame, labelsize=8, labelcolor="#4D4D4D", pad=2)
    ax2.set_ylabel("num observations", fontsize=9.5, rotation=270, labelpad=8)
    ax2.grid(False)
    for sp in ax2.spines.values():
        sp.set_visible(False)

fig.savefig("out.png", dpi=100)
